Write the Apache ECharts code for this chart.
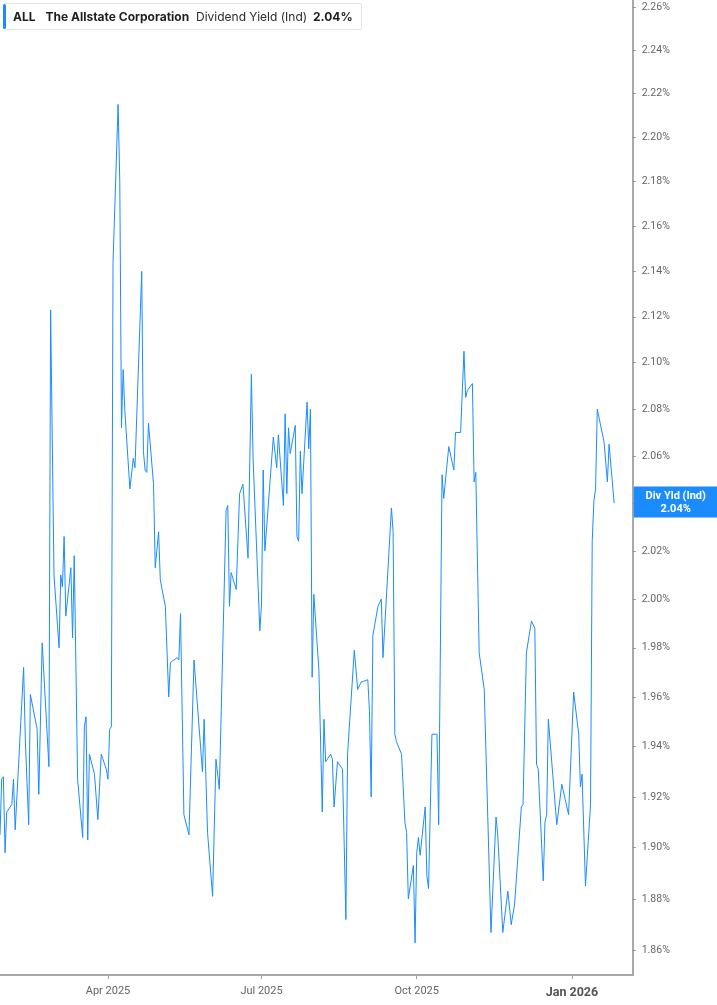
<!DOCTYPE html>
<html>
<head>
<meta charset="utf-8">
<script src="https://cdn.jsdelivr.net/npm/echarts@6/dist/echarts.min.js"></script>
<style>
html,body{margin:0;padding:0;background:#fff;}
#chart{width:717px;height:1005px;}
</style>
</head>
<body>
<div id="chart"></div>
<script>
const dates = [
'2025-01-27','2025-01-28','2025-01-29','2025-01-30','2025-01-31','2025-02-03','2025-02-04','2025-02-05','2025-02-10','2025-02-11',
'2025-02-12','2025-02-13','2025-02-14','2025-02-18','2025-02-19','2025-02-21','2025-02-25','2025-02-26','2025-02-28','2025-03-03',
'2025-03-04','2025-03-05','2025-03-06','2025-03-07','2025-03-10','2025-03-11','2025-03-12','2025-03-14','2025-03-17','2025-03-18',
'2025-03-19','2025-03-20','2025-03-21','2025-03-24','2025-03-26','2025-03-27','2025-03-28','2025-03-31','2025-04-01','2025-04-02',
'2025-04-03','2025-04-04','2025-04-07','2025-04-08','2025-04-09','2025-04-10','2025-04-11','2025-04-14','2025-04-16','2025-04-17',
'2025-04-21','2025-04-22','2025-04-23','2025-04-24','2025-04-25','2025-04-28','2025-04-29','2025-05-01','2025-05-02','2025-05-05',
'2025-05-07','2025-05-08','2025-05-12','2025-05-13','2025-05-14','2025-05-16','2025-05-19','2025-05-22','2025-05-27','2025-05-28',
'2025-05-30','2025-06-02','2025-06-04','2025-06-05','2025-06-06','2025-06-10','2025-06-11','2025-06-12','2025-06-13','2025-06-16',
'2025-06-18','2025-06-20','2025-06-23','2025-06-25','2025-06-26','2025-06-30','2025-07-01','2025-07-02','2025-07-03','2025-07-08',
'2025-07-10','2025-07-11','2025-07-14','2025-07-15','2025-07-16','2025-07-17','2025-07-18','2025-07-21','2025-07-22','2025-07-23',
'2025-07-24','2025-07-25','2025-07-28','2025-07-29','2025-07-30','2025-07-31','2025-08-01','2025-08-04','2025-08-06','2025-08-07',
'2025-08-08','2025-08-11','2025-08-12','2025-08-13','2025-08-14','2025-08-15','2025-08-18','2025-08-20','2025-08-21','2025-08-25',
'2025-08-27','2025-08-28','2025-08-29','2025-09-02','2025-09-03','2025-09-04','2025-09-05','2025-09-08','2025-09-10','2025-09-11',
'2025-09-16','2025-09-17','2025-09-18','2025-09-19','2025-09-22','2025-09-24','2025-09-25','2025-09-26','2025-09-29','2025-09-30',
'2025-10-01','2025-10-02','2025-10-03','2025-10-06','2025-10-07','2025-10-08','2025-10-10','2025-10-13','2025-10-14','2025-10-16',
'2025-10-17','2025-10-20','2025-10-21','2025-10-23','2025-10-24','2025-10-27','2025-10-29','2025-10-30','2025-10-31','2025-11-03',
'2025-11-04','2025-11-05','2025-11-07','2025-11-10','2025-11-14','2025-11-17','2025-11-18','2025-11-19','2025-11-21','2025-11-24',
'2025-11-26','2025-11-28','2025-12-02','2025-12-03','2025-12-05','2025-12-08','2025-12-10','2025-12-11','2025-12-12','2025-12-15',
'2025-12-16','2025-12-17','2025-12-18','2025-12-19','2025-12-23','2025-12-26','2025-12-30','2026-01-02','2026-01-05','2026-01-06',
'2026-01-07','2026-01-09','2026-01-12','2026-01-13','2026-01-14','2026-01-15','2026-01-16','2026-01-20','2026-01-21','2026-01-22',
'2026-01-23','2026-01-26'
];
const yields = [
1.905,1.927,1.928,1.898,1.914,1.917,1.927,1.907,1.972,1.943,
1.943,1.909,1.961,1.947,1.921,1.982,1.932,2.123,2.010,1.980,
2.010,2.005,2.026,1.993,2.013,1.984,2.018,1.927,1.904,1.948,
1.952,1.903,1.937,1.929,1.911,1.911,1.937,1.931,1.927,1.947,
1.948,2.144,2.215,2.180,2.072,2.097,2.079,2.046,2.059,2.055,
2.140,2.062,2.054,2.053,2.074,2.048,2.013,2.028,2.008,1.997,
1.960,1.974,1.976,1.975,1.994,1.913,1.905,1.975,1.930,1.951,
1.906,1.881,1.935,1.935,1.923,2.037,2.039,1.997,2.011,2.004,
2.044,2.048,2.017,2.095,2.059,1.987,1.998,2.054,2.020,2.068,
2.055,2.069,2.039,2.078,2.044,2.072,2.061,2.073,2.026,2.024,
2.062,2.044,2.083,2.063,2.080,1.968,2.002,1.971,1.914,1.951,
1.934,1.937,1.935,1.916,1.916,1.934,1.931,1.872,1.937,1.979,
1.963,1.963,1.966,1.967,1.954,1.920,1.985,1.997,2.000,1.976,
2.038,2.028,1.945,1.942,1.937,1.910,1.906,1.880,1.893,1.863,
1.898,1.904,1.897,1.916,1.889,1.884,1.945,1.945,1.909,2.052,
2.042,2.064,2.064,2.054,2.070,2.070,2.105,2.085,2.088,2.091,
2.049,2.053,1.978,1.963,1.867,1.912,1.905,1.905,1.867,1.883,
1.870,1.878,1.916,1.917,1.978,1.991,1.988,1.933,1.931,1.887,
1.910,1.913,1.951,1.951,1.909,1.925,1.913,1.962,1.945,1.924,
1.929,1.885,1.917,2.024,2.041,2.046,2.080,2.066,2.066,2.049,
2.065,2.040
];
const yTicks = [1.86,1.88,1.90,1.92,1.94,1.96,1.98,2.00,2.02,2.04,2.06,2.08,2.10,2.12,2.14,2.16,2.18,2.20,2.22,2.24,2.26];
const xTickDates = ['2025-04-01','2025-07-01','2025-10-01','2026-01-01'];
const xTickLabels = ['Apr 2025','Jul 2025','Oct 2025','Jan 2026'];
const xRange = ['2025-01-27','2026-02-06'];
const ticker = 'ALL';
const company = 'The Allstate Corporation';
const metric = 'Dividend Yield (Ind)';
const shortMetric = 'Div Yld (Ind)';

const BLUE = '#1a8cff';
const ts = d => Date.parse(d + 'T00:00:00Z');
const last = yields[yields.length - 1];
const lastTxt = last.toFixed(2) + '%';
const xTickTs = xTickDates.map(ts);

const chart = echarts.init(document.getElementById('chart'), null, {renderer: 'canvas'});
chart.setOption({
  animation: false,
  backgroundColor: '#ffffff',
  grid: {left: 0, right: 84.3, top: 0, bottom: 30, containLabel: false},
  xAxis: {
    type: 'value',
    min: ts(xRange[0]),
    max: ts(xRange[1]),
    axisLine: {show: true, lineStyle: {color: '#a8a8a8', width: 2}},
    axisTick: {show: true, length: 4, lineStyle: {color: '#a0a0a0', width: 1}, customValues: xTickTs},
    splitLine: {show: false},
    axisLabel: {
      customValues: xTickTs,
      margin: 9,
      hideOverlap: false,
      showMinLabel: true,
      showMaxLabel: true,
      formatter: function (v) {
        const i = xTickTs.findIndex(t => Math.abs(t - v) < 86400000);
        if (i < 0) return '';
        const s = xTickLabels[i];
        return s.indexOf('Jan') === 0 ? '{b|' + s + '}' : '{a|' + s + '}';
      },
      rich: {
        a: {fontFamily: 'Roboto', fontSize: 11, color: '#666666', lineHeight: 14},
        b: {fontFamily: 'Roboto', fontSize: 12.5, fontWeight: 'bold', color: '#555555', lineHeight: 16, padding: [2, 0, 0, 0]}
      }
    }
  },
  yAxis: {
    type: 'value',
    position: 'right',
    scale: true,
    min: Math.log(yTicks[0]) - 0.005017,
    max: Math.log(yTicks[yTicks.length - 1]) + 0.001445,
    axisLine: {show: true, lineStyle: {color: '#a8a8a8', width: 2}},
    axisTick: {show: true, length: 3, lineStyle: {color: '#909090'}, customValues: yTicks.map(Math.log)},
    splitLine: {show: false},
    axisLabel: {
      customValues: yTicks.map(Math.log),
      margin: 9,
      fontFamily: 'Roboto',
      fontSize: 10.5,
      color: '#666666',
      formatter: v => Math.exp(v).toFixed(2) + '%'
    }
  },
  series: [{
    type: 'line',
    data: dates.map((d, i) => [ts(d), Math.log(yields[i])]),
    showSymbol: false,
    symbol: 'none',
    lineStyle: {color: BLUE, width: 1},
    z: 3,
    markLine: {
      silent: true,
      symbol: 'none',
      lineStyle: {width: 0, color: 'transparent'},
      data: [{yAxis: Math.log(last)}],
      label: {
        show: true,
        position: 'end',
        distance: 1,
        offset: [0, -15.5],
        backgroundColor: BLUE,
        padding: [3, 7, 2, 7],
        formatter: '{t|' + shortMetric + '}\n{t|' + lastTxt + '}',
        rich: {
          t: {width: 70, align: 'center', color: '#ffffff', fontFamily: 'Roboto', fontWeight: 'bold', fontSize: 11, lineHeight: 13}
        }
      }
    }
  }],
  graphic: [
    {type: 'rect', shape: {x: 3.5, y: 3.5, width: 358, height: 26, r: 2}, style: {fill: '#ffffff', stroke: '#e4e4e4', lineWidth: 1}, z: 10},
    {type: 'rect', shape: {x: 3, y: 4, width: 3, height: 25, r: 1.5}, style: {fill: BLUE}, z: 11},
    {type: 'text', x: 13, y: 17, style: {text: ticker, font: 'bold 12px Inter', fill: '#1f1f1f', textVerticalAlign: 'middle'}, z: 11},
    {type: 'text', x: 45.5, y: 17, style: {text: company, font: 'bold 12px Inter', fill: '#1f1f1f', textVerticalAlign: 'middle'}, z: 11},
    {type: 'text', x: 196, y: 17, style: {text: metric, font: '12px Inter', fill: '#2a2a2a', textVerticalAlign: 'middle'}, z: 11},
    {type: 'text', x: 313, y: 17, style: {text: lastTxt, font: 'bold 12px Inter', fill: '#1f1f1f', textVerticalAlign: 'middle'}, z: 11}
  ]
});
</script>
</body>
</html>
